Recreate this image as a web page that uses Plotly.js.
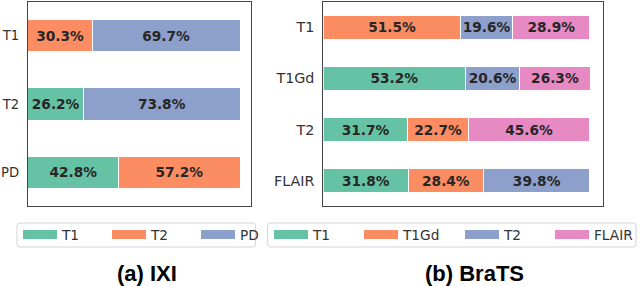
<!DOCTYPE html>
<html>
<head>
<meta charset="utf-8">
<script src="https://cdn.plot.ly/plotly-3.0.1.min.js"></script>
<style>html,body{margin:0;padding:0;background:#fff}</style>
</head>
<body>
<div id="chart" style="width:640px;height:286px"></div>
<script>
// ---- Data: (a) IXI ----
const ixiRows = ['T1', 'T2', 'PD'];
const ixiSeriesNames = ['T1', 'T2', 'PD'];
const ixiT1 = [null, 26.2, 42.8];
const ixiT2 = [30.3, null, 57.2];
const ixiPD = [69.7, 73.8, null];

// ---- Data: (b) BraTS ----
const bratsRows = ['T1', 'T1Gd', 'T2', 'FLAIR'];
const bratsSeriesNames = ['T1', 'T1Gd', 'T2', 'FLAIR'];
const bratsT1 = [null, 53.2, 31.7, 31.8];
const bratsT1Gd = [51.5, null, 22.7, 28.4];
const bratsT2 = [19.6, 20.6, null, 39.8];
const bratsFLAIR = [28.9, 26.3, 45.6, null];

const panelTitles = ['(a) IXI', '(b) BraTS'];

// ---- Style ----
const ixiColors = ['#66c2a5', '#fc8d62', '#8da0cb'];
const bratsColors = ['#66c2a5', '#fc8d62', '#8da0cb', '#e78ac3'];
const labelFont = {family: 'DejaVu Sans', size: 13.7, color: '#262626'};
const legendFont = {family: 'DejaVu Sans', size: 13.7, color: '#333333'};

function barTrace(name, rows, vals, color, xa, ya, width) {
  return {
    type: 'bar', orientation: 'h', name: name,
    y: rows, x: vals, xaxis: xa, yaxis: ya,
    width: width,
    marker: {color: color, line: {color: '#ffffff', width: 1}},
    texttemplate: '<b>%{x:.1f}%</b>',
    textposition: 'inside', insidetextanchor: 'middle',
    constraintext: 'none',
    textfont: labelFont,
    showlegend: false, hoverinfo: 'skip'
  };
}
function legendTrace(name, color, xa, ya, leg) {
  return {
    type: 'scatter', mode: 'lines', name: name,
    x: [null], y: [null], xaxis: xa, yaxis: ya,
    line: {color: color, width: 9},
    legend: leg, showlegend: true, hoverinfo: 'skip'
  };
}

const ixiVals = [ixiT1, ixiT2, ixiPD];
const bratsVals = [bratsT1, bratsT1Gd, bratsT2, bratsFLAIR];
const bratsLegends = ['legend2', 'legend2', 'legend3', 'legend3'];
const traces = [];
ixiSeriesNames.forEach((n, i) => traces.push(barTrace(n, ixiRows, ixiVals[i], ixiColors[i], 'x', 'y', 0.48)));
bratsSeriesNames.forEach((n, i) => traces.push(barTrace(n, bratsRows, bratsVals[i], bratsColors[i], 'x2', 'y2', 0.47)));
ixiSeriesNames.forEach((n, i) => traces.push(legendTrace(n, ixiColors[i], 'x', 'y', 'legend')));
bratsSeriesNames.forEach((n, i) => traces.push(legendTrace(n, bratsColors[i], 'x2', 'y2', bratsLegends[i])));

const W = 640, H = 286;
const frame = {showline: true, mirror: true, linecolor: '#444444', linewidth: 1.2, showgrid: false, zeroline: false, fixedrange: true};
const legendBase = {
  orientation: 'h', xanchor: 'left', yanchor: 'top', traceorder: 'normal',
  bgcolor: 'rgba(0,0,0,0)', borderwidth: 0,
  font: legendFont, itemwidth: 34, entrywidthmode: 'pixels',
  itemclick: false, itemdoubleclick: false
};

// rounded legend frames (decoration), in pixel units converted to paper
function roundRect(x0, y0, x1, y1, r) {
  const X = v => (v / W).toFixed(5), Y = v => (1 - v / H).toFixed(5);
  return 'M' + X(x0 + r) + ',' + Y(y0) + ' L' + X(x1 - r) + ',' + Y(y0) +
    ' Q' + X(x1) + ',' + Y(y0) + ' ' + X(x1) + ',' + Y(y0 + r) +
    ' L' + X(x1) + ',' + Y(y1 - r) + ' Q' + X(x1) + ',' + Y(y1) + ' ' + X(x1 - r) + ',' + Y(y1) +
    ' L' + X(x0 + r) + ',' + Y(y1) + ' Q' + X(x0) + ',' + Y(y1) + ' ' + X(x0) + ',' + Y(y1 - r) +
    ' L' + X(x0) + ',' + Y(y0 + r) + ' Q' + X(x0) + ',' + Y(y0) + ' ' + X(x0 + r) + ',' + Y(y0) + ' Z';
}

const titleFont = {family: 'Liberation Sans', size: 22, color: '#000000'};
const layout = {
  width: W, height: H,
  margin: {l: 0, r: 0, t: 0, b: 0},
  paper_bgcolor: '#ffffff', plot_bgcolor: '#ffffff',
  barmode: 'stack', bargap: 0,
  xaxis: Object.assign({domain: [28 / W, 251 / W], range: [0, 105], showticklabels: false, ticks: '', anchor: 'y'}, frame),
  yaxis: Object.assign({domain: [1 - 206 / H, 1 - 2 / H], type: 'category', range: [2.49, -0.49], ticks: '', tickfont: {family: 'DejaVu Sans', size: 13.2, color: '#333333'}, ticklabelstandoff: 5, anchor: 'x'}, frame),
  xaxis2: Object.assign({domain: [324 / W, 604 / W], range: [0, 105], showticklabels: false, ticks: '', anchor: 'y2'}, frame),
  yaxis2: Object.assign({domain: [1 - 206 / H, 1 - 2 / H], type: 'category', range: [3.49, -0.49], ticks: '', tickfont: {family: 'DejaVu Sans', size: 14.3, color: '#333333'}, ticklabelstandoff: 5, anchor: 'x2'}, frame),
  legend: Object.assign({}, legendBase, {x: 18 / W, y: 1 - 219 / H, entrywidth: 40}),
  legend2: Object.assign({}, legendBase, {x: 269 / W, y: 1 - 219 / H, entrywidth: 41}),
  legend3: Object.assign({}, legendBase, {x: 461 / W, y: 1 - 219 / H, entrywidth: 41}),
  shapes: [
    {type: 'path', xref: 'paper', yref: 'paper', path: roundRect(17, 223, 256, 247, 3), line: {color: '#d4d4d4', width: 1}, fillcolor: 'rgba(0,0,0,0)', layer: 'below'},
    {type: 'path', xref: 'paper', yref: 'paper', path: roundRect(268, 223, 637, 247, 3), line: {color: '#d4d4d4', width: 1}, fillcolor: 'rgba(0,0,0,0)', layer: 'below'}
  ],
  annotations: [
    {text: '<b>' + panelTitles[0] + '</b>', xref: 'paper', yref: 'paper', x: 147.5 / W, y: 1 - 273 / H, xanchor: 'center', yanchor: 'middle', showarrow: false, font: titleFont},
    {text: '<b>' + panelTitles[1] + '</b>', xref: 'paper', yref: 'paper', x: 475 / W, y: 1 - 273 / H, xanchor: 'center', yanchor: 'middle', showarrow: false, font: titleFont}
  ]
};

Plotly.newPlot('chart', traces, layout, {displayModeBar: false, staticPlot: true});
</script>
</body>
</html>
